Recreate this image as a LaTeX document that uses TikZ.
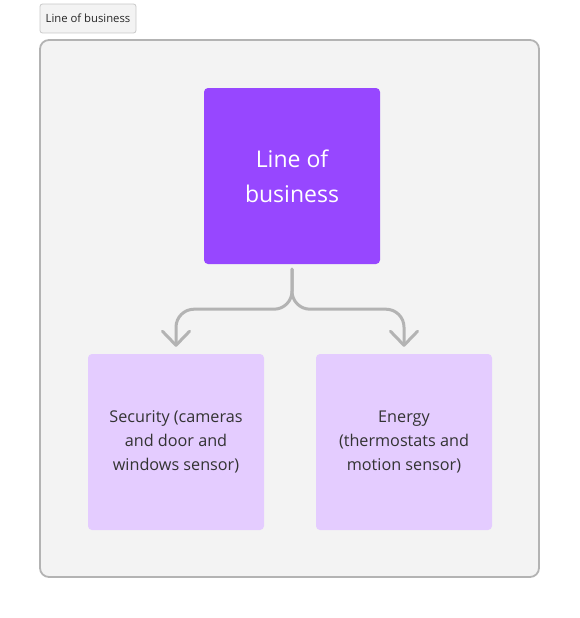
\documentclass[tikz,border=0pt]{standalone}
\usepackage{fontspec}
\setmainfont{Open Sans}
\usetikzlibrary{arrows.meta}
\definecolor{lobpurple}{HTML}{9747FF}
\definecolor{lightpurple}{HTML}{E4CCFF}
\definecolor{framefill}{HTML}{F3F3F3}
\definecolor{frameline}{HTML}{B3B3B3}
\definecolor{tagline}{HTML}{C8C8C8}
\definecolor{conngray}{HTML}{B3B3B3}
\definecolor{textdark}{HTML}{333333}
\tikzset{
  tagbox/.style={draw=tagline, fill=framefill, line width=0.8pt, rounded corners=2.5pt,
    minimum width=96pt, minimum height=29pt, inner sep=0pt, font=\fontsize{11.3}{13}\selectfont, text=black!85},
  framebox/.style={draw=frameline, fill=framefill, line width=1.8pt, rounded corners=9pt,
    minimum width=499pt, minimum height=537pt, inner sep=0pt},
  mainbox/.style={fill=lobpurple, rounded corners=4pt, minimum width=176pt, minimum height=176pt,
    inner sep=0pt, text=white, align=center, font=\fontsize{23}{35}\selectfont},
  childbox/.style={fill=lightpurple, rounded corners=4pt, minimum width=176pt, minimum height=176pt,
    inner sep=0pt, text=textdark, align=center, font=\fontsize{16.2}{24}\selectfont},
  conn/.style={draw=conngray, line width=3pt, rounded corners=18pt, line cap=round, line join=round,
    -{Straight Barb[length=14pt, width=27pt, line width=3pt, line cap=round, line join=round]}}
}
\begin{document}
\begin{tikzpicture}[x=1pt, y=-1pt]
\useasboundingbox (0,0) rectangle (580,618);
\node[tagbox] (tag) at (88,18.5) {Line of business};
\node[framebox] (frame) at (289.5,308.5) {};
\node[mainbox] (lob) at (292,176) {\raisebox{-1pt}{\parbox{170pt}{\centering Line of\\business}}};
\node[childbox] (sec) at (176,442) {\raisebox{-2pt}{\parbox{170pt}{\centering Security (cameras\\and door and\\windows sensor)}}};
\node[childbox] (eng) at (404,442) {\raisebox{-2pt}{\parbox{170pt}{\centering Energy\\(thermostats and\\motion sensor)}}};
\coordinate (split) at ([yshift=-45pt]lob.south);
\draw[conn] ([yshift=-5pt]lob.south) -- (split) -| ([yshift=7pt]sec.north);
\draw[conn] ([yshift=-5pt]lob.south) -- (split) -| ([yshift=7pt]eng.north);
\end{tikzpicture}
\end{document}
